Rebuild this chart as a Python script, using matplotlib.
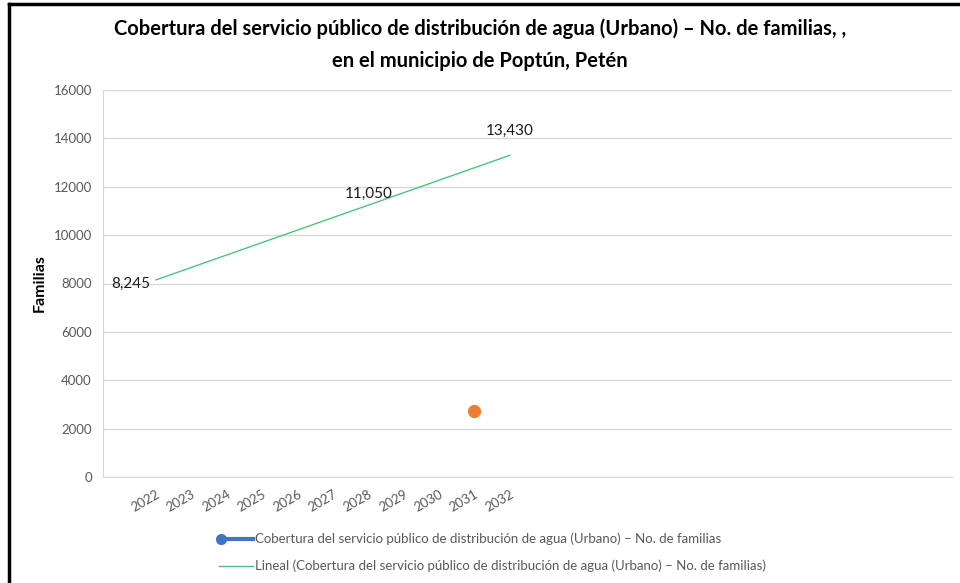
import numpy as np
import matplotlib.pyplot as plt
from matplotlib.lines import Line2D

plt.rcParams['font.family'] = ['Lato', 'DejaVu Sans']

# categories on the x axis (first slot and the tail are empty in the original sheet)
years = ['2022', '2023', '2024', '2025', '2026', '2027', '2028', '2029', '2030', '2031', '2032']
n_slots = 24
first_slot = 1

# blue series (only one visible point, drawn orange in the original)
point_year = '2031'
point_value = 2730

# linear trend line endpoints
trend_years = ['2022', '2032']
trend_values = [8150, 13300]

# data labels
label_years = ['2022', '2028', '2032']
label_values = [8245, 11050, 13430]
label_text = ['8,245', '11,050', '13,430']

title = ('Cobertura del servicio público de distribución de agua (Urbano) – No. de familias, ,\n'
         'en el municipio de Poptún, Petén')
series_name = 'Cobertura del servicio público de distribución de agua (Urbano) – No. de familias'
trend_name = 'Lineal (Cobertura del servicio público de distribución de agua (Urbano) – No. de familias)'


def pos(year):
    return first_slot + years.index(year) + 0.5


W, H = 960, 583
fig = plt.figure(figsize=(W / 100, H / 100), dpi=100)
ax = fig.add_axes([103 / W, 1 - 477 / H, (952 - 103) / W, (477 - 90) / H])

ax.set_xlim(0, n_slots)
ax.set_ylim(0, 16000)
ax.set_yticks(np.arange(0, 16001, 2000))
ax.grid(axis='y', color='#d9d9d9', linewidth=1)
ax.set_axisbelow(True)
for s in ['top', 'right']:
    ax.spines[s].set_visible(False)
ax.spines['left'].set_color('#d9d9d9')
ax.spines['bottom'].set_color('#d9d9d9')
ax.tick_params(axis='both', length=0, labelsize=9.5, labelcolor='#595959')
ax.tick_params(axis='y', pad=8)

ax.set_xticks([pos(y) for y in years])
ax.set_xticklabels(years, rotation=30, ha='right', rotation_mode='anchor')
ax.tick_params(axis='x', pad=8)

ax.set_ylabel('Familias', fontsize=11.5, fontweight='bold', color='black', labelpad=5)

# trend line
ax.plot([pos(y) for y in trend_years], trend_values, color='#4cc47a', linewidth=1)

# the single point
ax.plot([pos(point_year)], [point_value], 'o', color='#ED7D31', markersize=8.5)

# data labels
offsets = [(-25, -6), (0, 16), (0, 21)]
for y, v, t, off in zip(label_years, label_values, label_text, offsets):
    ax.annotate(t, (pos(y), v), xytext=off, textcoords='offset pixels',
                ha='center', va='center', fontsize=11, color='#1a1a1a')

fig.text(480 / W, 1 - 45 / H, title, ha='center', va='center', fontsize=14.5,
         fontweight='bold', linespacing=1.75)

# legend drawn by hand to match the original layout
fig.add_artist(Line2D([221 / W, 253 / W], [1 - 539 / H] * 2, color='#4472C4', linewidth=3))
fig.add_artist(Line2D([221 / W], [1 - 539 / H], marker='o', color='#4472C4', markersize=7))
fig.text(255 / W, 1 - 539 / H, series_name, ha='left', va='center', fontsize=9.5, color='#595959')
fig.add_artist(Line2D([219 / W, 253 / W], [1 - 566 / H] * 2, color='#4cc47a', linewidth=1))
fig.text(255 / W, 1 - 566 / H, trend_name, ha='left', va='center', fontsize=9.5, color='#595959')

# frame around the chart
fig.add_artist(Line2D([8.5 / W, 1], [1 - 4 / H] * 2, color='black', linewidth=2.5))
fig.add_artist(Line2D([8.5 / W] * 2, [0, 1 - 4 / H], color='black', linewidth=2.5))

fig.savefig('out.png', dpi=100)
